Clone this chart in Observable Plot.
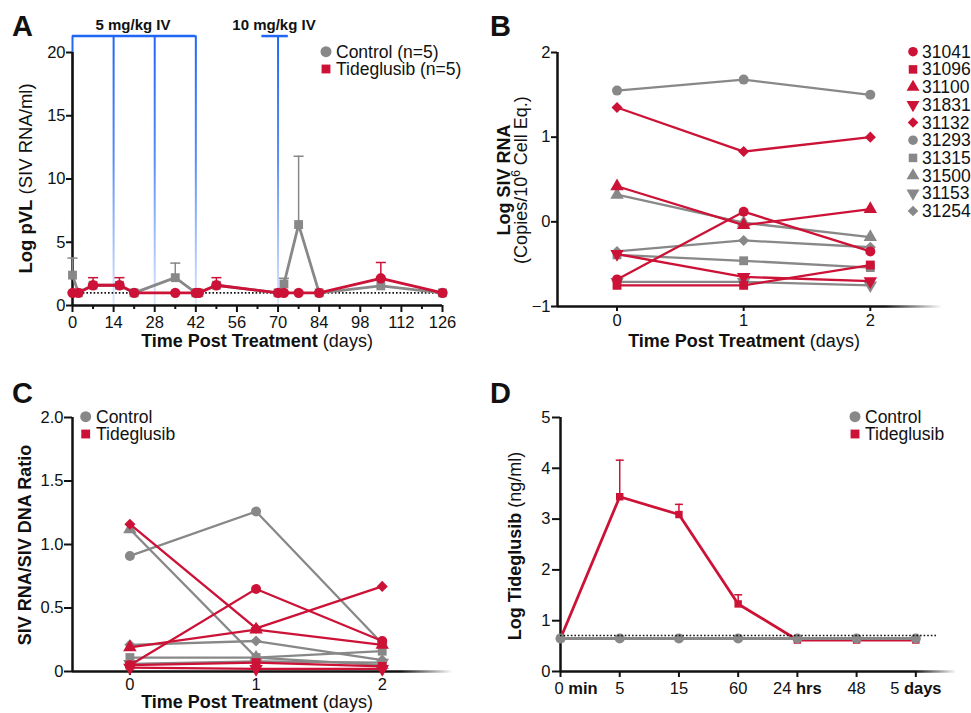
<!DOCTYPE html>
<html><head><meta charset="utf-8">
<script src="https://cdn.jsdelivr.net/npm/d3@7"></script>
<script src="https://cdn.jsdelivr.net/npm/@observablehq/plot@0.6"></script>
<style>
body{margin:0;background:#fff;}
#wrap{position:relative;width:971px;height:713px;overflow:hidden;background:#fff;}
#wrap > svg{position:absolute;}
</style></head><body><div id="wrap"></div>
<script>
// ---------- Panel A data ----------
const daysA        = [0, 2, 7, 16, 21, 35, 42, 43, 49, 70, 72, 77, 84, 105, 126];
const controlA     = [2.4, 1.0, 1.6, 1.6, 1.0, 2.2, 1.0, 1.0, 1.6, 1.0, 1.7, 6.4, 1.0, 1.55, 1.0];
const controlErrA  = [3.75, null, null, null, null, 3.35, null, null, null, null, 2.15, 11.8, null, null, null];
const tideA        = [1.0, 1.0, 1.6, 1.6, 1.0, 1.0, 1.0, 1.0, 1.6, 1.0, 1.0, 1.0, 1.0, 2.15, 1.0];
const tideErrA     = [null, null, 2.2, 2.2, null, null, null, null, 2.2, null, null, null, null, 3.4, null];
const xTicksA      = [0, 14, 28, 42, 56, 70, 84, 98, 112, 126];
const xMinorTicksA = [7, 21, 35, 49, 63, 77, 91, 105, 119];
const yTicksA      = [0, 5, 10, 15, 20];
const dose5mgDays  = [0, 14, 28, 42];
const dose10mgDays = [70];
const dose10mgBar  = [64.5, 73.5];
const doseLevelA   = 21.3;
const lodA         = 1;

// ---------- Panels B & C data ----------
const animalIds    = ["31041","31096","31100","31831","31132","31293","31315","31500","31153","31254"];
const animalGroup  = ["Tideglusib","Tideglusib","Tideglusib","Tideglusib","Tideglusib","Control","Control","Control","Control","Control"];
const animalSymbol = ["circle","square","triangle","triangleDown","diamond","circle","square","triangle","triangleDown","diamond"];
const daysBC       = [0, 1, 2];
const rnaDay0      = [-0.68, -0.75, 0.42, -0.38, 1.35, 1.55, -0.39, 0.32, -0.71, -0.35];
const rnaDay1      = [0.12, -0.75, -0.04, -0.65, 0.83, 1.68, -0.46, -0.01, -0.71, -0.22];
const rnaDay2      = [-0.35, -0.51, 0.15, -0.70, 1.00, 1.50, -0.54, -0.18, -0.75, -0.30];
const ratioDay0    = [0.05, 0.05, 0.19, 0.03, 1.16, 0.91, 0.11, 1.12, 0.06, 0.21];
const ratioDay1    = [0.65, 0.07, 0.33, 0.02, 0.34, 1.26, 0.11, 0.11, 0.08, 0.24];
const ratioDay2    = [0.24, 0.04, 0.21, 0.02, 0.67, 0.22, 0.16, 0.05, 0.07, 0.09];
const yTicksB      = [-1, 0, 1, 2];
const yTicksC      = [0, 0.5, 1, 1.5, 2];

// ---------- Panel D data ----------
const timeLabelsD  = ["0 min", "5", "15", "60", "24 hrs", "48", "5 days"];
const tideD        = [0.65, 3.44, 3.09, 1.33, 0.62, 0.62, 0.62];
const tideErrD     = [null, 4.16, 3.29, 1.51, null, null, null];
const controlD     = [0.65, 0.65, 0.65, 0.65, 0.65, 0.65, 0.65];
const yTicksD      = [0, 1, 2, 3, 4, 5];
const lodD         = 0.71;
const lodEndD      = 6.35;

// ---------- styling ----------
const RED = "#cc1236", GRAY = "#888888", BLUE = "#1f66f5", INK = "#111111";
const FONT = '"Liberation Sans", Arial, Helvetica, sans-serif';
const TICK_FS = 16.5;
const colorOf = g => g === "Control" ? GRAY : RED;
const sqrt3 = Math.sqrt(3);
const triangleDown = {draw(ctx, size) {
  const y = -Math.sqrt(size / (sqrt3 * 3));
  ctx.moveTo(0, -y * 2); ctx.lineTo(-sqrt3 * y, y); ctx.lineTo(sqrt3 * y, y); ctx.closePath();
}};
const capSymbol = {draw(ctx, size) {
  const w = Math.sqrt(size / Math.PI);
  ctx.moveTo(-w, 0); ctx.lineTo(w, 0);
}};
const plotSym = {circle: "circle", square: "square", triangle: "triangle", triangleDown: triangleDown, diamond: "diamond2"};
const d3Sym = {circle: d3.symbolCircle, square: d3.symbolSquare, triangle: d3.symbolTriangle, triangleDown: triangleDown, diamond: d3.symbolDiamond2};
const baseStyle = {fontFamily: FONT, fontSize: TICK_FS + "px", background: "transparent", color: INK, overflow: "visible"};

const wrap = d3.select("#wrap");
function place(svg, left, top, defs) {
  svg.style.left = left + "px"; svg.style.top = top + "px";
  if (defs) d3.select(svg).insert("defs", ":first-child").html(defs);
  wrap.node().appendChild(svg);
  return svg;
}
function fadeDef(id, x1, x2) {
  return `<linearGradient id="${id}" gradientUnits="userSpaceOnUse" x1="${x1}" y1="0" x2="${x2}" y2="0">
    <stop offset="0" stop-color="${INK}" stop-opacity="1"/><stop offset="1" stop-color="${INK}" stop-opacity="0"/></linearGradient>`;
}
function errMarks(rows, color, r) {
  const e = rows.filter(d => d.err != null);
  return [
    Plot.ruleX(e, {x: "x", y1: "y", y2: "err", stroke: color, strokeWidth: 1.5}),
    Plot.dot(e, {x: "x", y: "err", symbol: capSymbol, r: r, stroke: color, strokeWidth: 1.5, fill: "none"})
  ];
}

// ---------- Panel A ----------
{
  const ctrl = daysA.map((d, i) => ({x: d, y: controlA[i], err: controlErrA[i]}));
  const tide = daysA.map((d, i) => ({x: d, y: tideA[i], err: tideErrA[i]}));
  const svg = Plot.plot({
    width: 485, height: 340, marginLeft: 72, marginRight: 43, marginTop: 52, marginBottom: 35,
    style: baseStyle,
    x: {domain: [0, 126]}, y: {domain: [0, 20]},
    marks: [
      Plot.ruleX(dose5mgDays, {x: d => d, y1: 0, y2: doseLevelA, stroke: "url(#doseFade)", strokeWidth: 2}),
      Plot.ruleX(dose10mgDays, {x: d => d, y1: 0, y2: doseLevelA, stroke: "url(#doseFade)", strokeWidth: 2}),
      Plot.ruleY([doseLevelA], {y: d => d, x1: dose5mgDays[0], x2: dose5mgDays[dose5mgDays.length - 1], stroke: BLUE, strokeWidth: 2.5}),
      Plot.ruleY([doseLevelA], {y: d => d, x1: dose10mgBar[0], x2: dose10mgBar[1], stroke: BLUE, strokeWidth: 2.5}),
      Plot.ruleY([lodA], {y: d => d, stroke: INK, strokeWidth: 1.6, strokeDasharray: "1.6,2"}),
      Plot.ruleX([0], {stroke: INK, strokeWidth: 2.5}),
      Plot.ruleY([0], {stroke: INK, strokeWidth: 2.5}),
      Plot.axisX({ticks: xMinorTicksA, tickSize: 4, tickFormat: () => "", strokeWidth: 2, label: null}),
      Plot.axisX({ticks: xTicksA, tickSize: 7, tickPadding: 4, tickFormat: "d", strokeWidth: 2, label: null, fontSize: TICK_FS}),
      Plot.axisY({ticks: yTicksA, tickSize: 6, tickPadding: 1, tickFormat: "d", strokeWidth: 2, label: null, fontSize: TICK_FS}),
      ...errMarks(ctrl, GRAY, 5),
      Plot.line(ctrl, {x: "x", y: "y", stroke: GRAY, strokeWidth: 2.8}),
      Plot.dot(ctrl, {x: "x", y: "y", symbol: "square", r: 5, fill: GRAY}),
      ...errMarks(tide, RED, 5),
      Plot.line(tide, {x: "x", y: "y", stroke: RED, strokeWidth: 2.8}),
      Plot.dot(tide, {x: "x", y: "y", symbol: "circle", r: 5.2, fill: RED})
    ]
  });
  place(svg, 0, 0, `<linearGradient id="doseFade" gradientUnits="userSpaceOnUse" x1="0" y1="36" x2="0" y2="305">
    <stop offset="0" stop-color="${BLUE}" stop-opacity="1"/><stop offset="0.45" stop-color="${BLUE}" stop-opacity="0.75"/><stop offset="1" stop-color="${BLUE}" stop-opacity="0.15"/></linearGradient>`);
}

// ---------- Panels B & C ----------
function animalPanel(values, opts) {
  const order = [5, 6, 7, 8, 9, 0, 1, 2, 3, 4];
  const marks = [
    Plot.ruleX([opts.xDomain[0]], {stroke: INK, strokeWidth: 2.5}),
    Plot.ruleY([opts.yDomain[0]], {stroke: `url(#${opts.fadeId})`, strokeWidth: 2.5}),
    Plot.axisX({ticks: daysBC, tickSize: opts.xTickSize, tickPadding: opts.xTickPad, tickFormat: "d", strokeWidth: 2, label: null, fontSize: TICK_FS}),
    Plot.axisY({ticks: opts.yTicks, tickSize: opts.yTickSize, tickPadding: 1, tickFormat: opts.yFormat, strokeWidth: 2, label: null, fontSize: TICK_FS})
  ];
  for (const i of order) {
    const rows = daysBC.map((d, j) => ({x: d, y: values[j][i]}));
    const c = colorOf(animalGroup[i]);
    marks.push(Plot.line(rows, {x: "x", y: "y", stroke: c, strokeWidth: 2.3}));
    marks.push(Plot.dot(rows, {x: "x", y: "y", symbol: plotSym[animalSymbol[i]], r: 5, fill: c}));
  }
  return Plot.plot({
    width: opts.width, height: opts.height, marginLeft: 72, marginRight: opts.mr, marginTop: opts.mt, marginBottom: opts.mb,
    style: baseStyle,
    x: {domain: opts.xDomain}, y: {domain: opts.yDomain},
    marks
  });
}
place(animalPanel([rnaDay0, rnaDay1, rnaDay2], {
  width: 486, height: 340, mr: 29, mt: 52, mb: 34, xDomain: [-0.47, 2.57], yDomain: [-1, 2],
  yTicks: yTicksB, yFormat: "d", xTickSize: 5, xTickPad: 3, yTickSize: 6, fadeId: "fadeB"
}), 485, 0, fadeDef("fadeB", 400, 457));
place(animalPanel([ratioDay0, ratioDay1, ratioDay2], {
  width: 485, height: 373, mr: 32, mt: 77, mb: 42, xDomain: [-0.455, 2.565], yDomain: [0, 2],
  yTicks: yTicksC, yFormat: d => d === 0 ? "0" : d.toFixed(1), xTickSize: 4, xTickPad: 3, yTickSize: 8, fadeId: "fadeC"
}), 0, 340, fadeDef("fadeC", 400, 453));

// ---------- Panel D ----------
{
  const idx = timeLabelsD.map((_, i) => i);
  const tide = idx.map(i => ({x: i, y: tideD[i], err: tideErrD[i]}));
  const ctrl = idx.map(i => ({x: i, y: controlD[i]}));
  const svg = Plot.plot({
    width: 486, height: 373, marginLeft: 75, marginRight: 16, marginTop: 77, marginBottom: 42,
    style: baseStyle,
    x: {domain: [0, 6.67]}, y: {domain: [0, 5]},
    marks: [
      Plot.ruleX([0], {stroke: INK, strokeWidth: 2.5}),
      Plot.ruleY([0], {stroke: "url(#fadeD)", strokeWidth: 2.5}),
      Plot.axisX({ticks: idx, tickSize: 6, tickPadding: 5, tickFormat: d => timeLabelsD[d], strokeWidth: 2, label: null, fontSize: TICK_FS}),
      Plot.axisY({ticks: yTicksD, tickSize: 8, tickPadding: 2, tickFormat: "d", strokeWidth: 2, label: null, fontSize: TICK_FS}),
      ...errMarks(tide, RED, 4),
      Plot.line(tide, {x: "x", y: "y", stroke: RED, strokeWidth: 2.8}),
      Plot.dot(tide, {x: "x", y: "y", symbol: "square", r: 4.2, fill: RED}),
      Plot.line(ctrl, {x: "x", y: "y", stroke: GRAY, strokeWidth: 3}),
      Plot.dot(ctrl, {x: "x", y: "y", symbol: "circle", r: 5, fill: GRAY}),
      Plot.ruleY([lodD], {y: d => d, x1: 0, x2: lodEndD, stroke: INK, strokeWidth: 1.6, strokeDasharray: "1.6,2"})
    ]
  });
  place(svg, 485, 340, fadeDef("fadeD", 430, 472));
  d3.select(svg).selectAll('g[aria-label="x-axis tick label"] text').each(function(_, i) {
    const s = this.textContent.trim();
    const sp = s.indexOf(" ");
    if (sp < 0) return;
    const el = d3.select(this);
    el.text("");
    el.append("tspan").text(s.slice(0, sp));
    el.append("tspan").attr("font-weight", "bold").text(s.slice(sp));
    if (i === 0) el.attr("text-anchor", "start").attr("x", -6);
  });
}

// ---------- overlay: panel letters, titles, legends ----------
const ov = wrap.append("svg").attr("width", 971).attr("height", 713)
  .style("left", "0px").style("top", "0px").style("font-family", FONT).style("pointer-events", "none");
function label(x, y, parts, {size = 18, anchor = "start", rotate = 0} = {}) {
  const t = ov.append("text")
    .attr("transform", `translate(${x},${y})` + (rotate ? ` rotate(${rotate})` : ""))
    .attr("text-anchor", anchor).attr("font-size", size).attr("fill", INK);
  for (const p of parts) {
    const s = t.append("tspan").text(p.t);
    if (p.b) s.attr("font-weight", "bold");
    if (p.size) s.attr("font-size", p.size);
    if (p.dy) s.attr("dy", p.dy);
  }
}
function sym(x, y, type, r, fill) {
  ov.append("path").attr("transform", `translate(${x},${y})`)
    .attr("d", d3.symbol(d3Sym[type], Math.PI * r * r)()).attr("fill", fill);
}
// panel letters
label(12, 36, [{t: "A", b: true}], {size: 29});
label(490, 36, [{t: "B", b: true}], {size: 29});
label(12, 403, [{t: "C", b: true}], {size: 29});
label(490, 403, [{t: "D", b: true}], {size: 29});
// dose labels
label(133, 30, [{t: "5 mg/kg IV", b: true}], {size: 15, anchor: "middle"});
label(274, 30, [{t: "10 mg/kg IV", b: true}], {size: 15, anchor: "middle"});
// axis titles
label(32, 178.5, [{t: "Log pVL", b: true}, {t: " (SIV RNA/ml)"}], {rotate: -90, anchor: "middle", size: 18.5});
label(257, 347, [{t: "Time Post Treatment", b: true}, {t: " (days)"}], {anchor: "middle"});
label(510, 180, [{t: "Log SIV RNA", b: true}], {rotate: -90, anchor: "middle"});
label(527, 180, [{t: "(Copies/10"}, {t: "6", size: 12, dy: -7}, {t: " Cell Eq.)", dy: 7}], {rotate: -90, anchor: "middle"});
label(744, 347, [{t: "Time Post Treatment", b: true}, {t: " (days)"}], {anchor: "middle"});
label(31, 545, [{t: "SIV RNA/SIV DNA Ratio", b: true}], {rotate: -90, anchor: "middle"});
label(257, 708, [{t: "Time Post Treatment", b: true}, {t: " (days)"}], {anchor: "middle"});
label(521, 546, [{t: "Log Tideglusib", b: true}, {t: " (ng/ml)"}], {rotate: -90, anchor: "middle"});
// legend A
sym(326, 51.7, "circle", 5.5, GRAY); label(336, 58, [{t: "Control (n=5)"}], {size: 17.5});
sym(326, 69, "square", 5, RED);     label(336, 75, [{t: "Tideglusib (n=5)"}], {size: 17.5});
// legend B
animalIds.forEach((id, i) => {
  const y = 51.7 + i * 17.7;
  sym(913, y, animalSymbol[i], 4.8, colorOf(animalGroup[i]));
  label(922, y + 6, [{t: id}], {size: 17.5});
});
// legend C
sym(85.7, 416.7, "circle", 5.5, GRAY); label(96, 423, [{t: "Control"}], {size: 17.5});
sym(85.7, 434, "square", 5, RED);      label(96, 440, [{t: "Tideglusib"}], {size: 17.5});
// legend D
sym(855, 416.7, "circle", 5.5, GRAY); label(865, 423, [{t: "Control"}], {size: 17.5});
sym(855, 434, "square", 5, RED);      label(865, 440, [{t: "Tideglusib"}], {size: 17.5});
</script></body></html>
